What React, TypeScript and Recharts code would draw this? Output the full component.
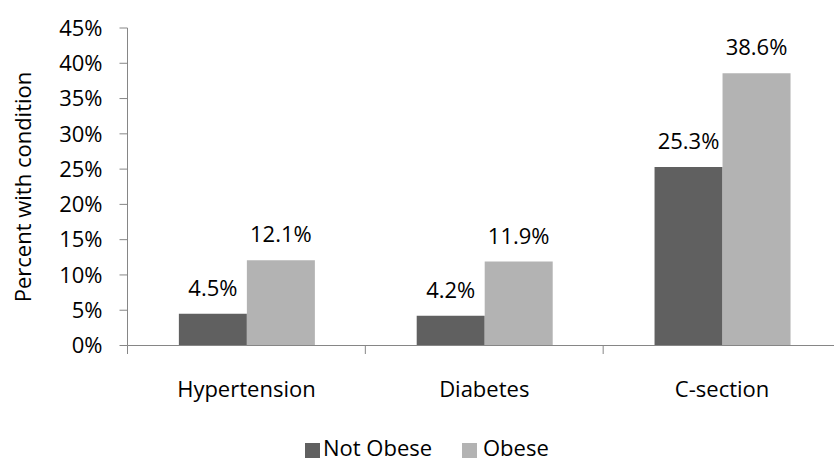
import React from "react";
import { BarChart, Bar, XAxis, YAxis, LabelList, Label } from "recharts";

// Share of births with each condition, by maternal obesity
const categories = ["Hypertension", "Diabetes", "C-section"];
const notObese = [4.5, 4.2, 25.3];
const obese = [12.1, 11.9, 38.6];
const yTicks = [0, 5, 10, 15, 20, 25, 30, 35, 40, 45];

const rows = categories.map((name, i) => ({ name, notObese: notObese[i], obese: obese[i] }));

// Layout (the svg is a bit wider than the frame, so the axis runs off the right edge)
const W = 850;
const H = 463;
const AXIS_W = 127.5;
const TOP = 28;
const RIGHT = 9;
const X_AXIS_H = 117.5;
const BASE_Y = H - X_AXIS_H;
const band = (W - AXIS_W - RIGHT) / categories.length;

const FONT = "'Open Sans', sans-serif";
const AXIS_COLOR = "#868686";
const DARK = "#606060";
const LIGHT = "#b3b3b3";

const pct = (v: number) => `${v}%`;

// Category label plus Excel-style tick marks between the categories
const CategoryTick = (props: any) => {
  const { x, payload, index } = props;
  const left = x - band / 2;
  return (
    <g>
      <line x1={left} x2={left} y1={BASE_Y} y2={BASE_Y + 8.5} stroke={AXIS_COLOR} strokeWidth={1} />
      {index === categories.length - 1 && (
        <line x1={x + band / 2} x2={x + band / 2} y1={BASE_Y} y2={BASE_Y + 8.5} stroke={AXIS_COLOR} strokeWidth={1} />
      )}
      <text x={x} y={396.5} textAnchor="middle" fontSize={22} fontFamily={FONT} fill="#000">
        {payload.value}
      </text>
    </g>
  );
};

const legendItems = [
  { label: "Not Obese", color: DARK, box: 305, text: 323 },
  { label: "Obese", color: LIGHT, box: 462, text: 483 },
];

export default function App() {
  return (
    <div
      style={{
        position: "fixed",
        left: 0,
        top: 0,
        width: 834,
        height: 463,
        overflow: "hidden",
        background: "#fff",
      }}
    >
      <BarChart
        width={W}
        height={H}
        data={rows}
        margin={{ top: TOP, right: RIGHT, left: 0, bottom: 0 }}
        barCategoryGap="21.6%"
        barGap={0}
      >
        <YAxis
          width={AXIS_W}
          domain={[0, 45]}
          ticks={yTicks}
          interval={0}
          tickFormatter={pct}
          tickSize={8}
          tickMargin={17}
          axisLine={{ stroke: AXIS_COLOR, strokeWidth: 1 }}
          tickLine={{ stroke: AXIS_COLOR, strokeWidth: 1 }}
          tick={{ fontSize: 22, fontFamily: FONT, fill: "#000" }}
        >
          <Label
            content={() => (
              <text
                x={31}
                y={187}
                transform="rotate(-90, 31, 187)"
                textAnchor="middle"
                fontSize={22}
                fontFamily={FONT}
                fill="#000"
              >
                Percent with condition
              </text>
            )}
          />
        </YAxis>
        <XAxis
          dataKey="name"
          height={X_AXIS_H}
          interval={0}
          tickLine={false}
          axisLine={{ stroke: AXIS_COLOR, strokeWidth: 1 }}
          tick={<CategoryTick />}
        />
        <Bar dataKey="notObese" fill={DARK} isAnimationActive={false}>
          <LabelList
            dataKey="notObese"
            position="top"
            offset={18}
            formatter={(v: any) => pct(v)}
            style={{ fontSize: 22, fontFamily: FONT, fill: "#000" }}
          />
        </Bar>
        <Bar dataKey="obese" fill={LIGHT} isAnimationActive={false}>
          <LabelList
            dataKey="obese"
            position="top"
            offset={18}
            formatter={(v: any) => pct(v)}
            style={{ fontSize: 22, fontFamily: FONT, fill: "#000" }}
          />
        </Bar>
      </BarChart>
      <svg width={834} height={463} style={{ position: "absolute", left: 0, top: 0, pointerEvents: "none" }}>
        {legendItems.map((item) => (
          <g key={item.label}>
            <rect x={item.box} y={443} width={15} height={15} fill={item.color} />
            <text x={item.text} y={456} fontSize={22} fontFamily={FONT} fill="#000">
              {item.label}
            </text>
          </g>
        ))}
      </svg>
    </div>
  );
}
